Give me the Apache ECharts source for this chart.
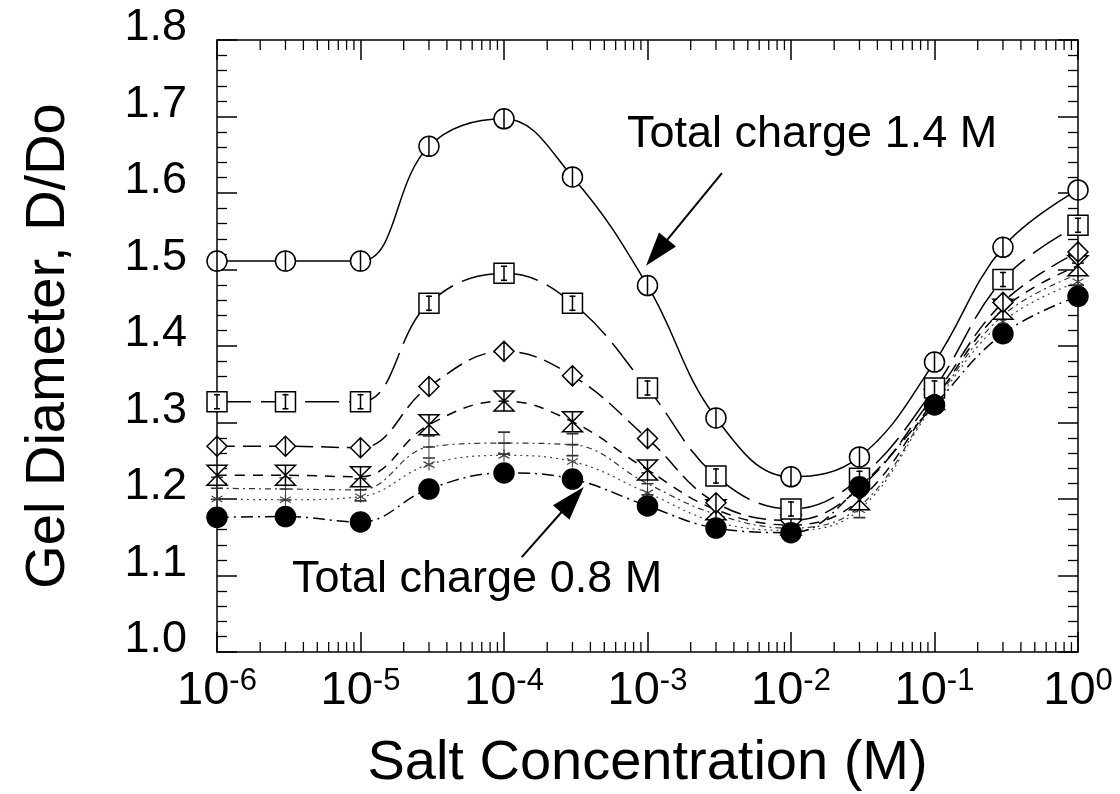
<!DOCTYPE html>
<html>
<head>
<meta charset="utf-8">
<script src="https://cdn.jsdelivr.net/npm/echarts@6/dist/echarts.min.js"></script>
<style>
  html, body { margin: 0; padding: 0; background: #fff; }
  #chart { width: 1120px; height: 794px; }
</style>
</head>
<body>
<div id="chart"></div>
<script>
// Salt concentration (M) at which the gels were measured
const saltConc = [1e-6, 3e-6, 1e-5, 3e-5, 1e-4, 3e-4, 1e-3, 3e-3, 1e-2, 3e-2, 1e-1, 3e-1, 1];

// Swelling ratio D/Do for each total charge density
const charge14 = [1.511, 1.511, 1.511, 1.661, 1.697, 1.621, 1.479, 1.306, 1.229, 1.255, 1.379, 1.529, 1.604];
const charge13 = [1.327, 1.327, 1.327, 1.456, 1.495, 1.456, 1.345, 1.230, 1.187, 1.227, 1.345, 1.487, 1.558];
const charge12 = [1.269, 1.269, 1.267, 1.347, 1.393, 1.361, 1.279, 1.195, 1.172, 1.214, 1.336, 1.457, 1.523];
const charge11 = [1.231, 1.231, 1.229, 1.297, 1.328, 1.301, 1.238, 1.186, 1.166, 1.199, 1.330, 1.448, 1.505];
const charge10 = [1.214, 1.213, 1.212, 1.268, 1.273, 1.271, 1.220, 1.180, 1.162, 1.190, 1.327, 1.440, 1.494];
const charge09 = [1.200, 1.199, 1.203, 1.245, 1.257, 1.249, 1.208, 1.170, 1.159, 1.186, 1.324, 1.432, 1.484];
const charge08 = [1.176, 1.177, 1.170, 1.213, 1.234, 1.226, 1.191, 1.162, 1.156, 1.216, 1.323, 1.416, 1.465];

// Axis ranges
const X_MIN = 1e-6, X_MAX = 1;
const Y_MIN = 1.0, Y_MAX = 1.8, Y_STEP = 0.1;

// Logarithmic minor tick positions (2..9 within each decade)
const decades = [1e-6, 1e-5, 1e-4, 1e-3, 1e-2, 1e-1];
const minorMultipliers = [2, 3, 4, 5, 6, 7, 8, 9];
const minorTicks = [];
decades.forEach(d => minorMultipliers.forEach(m => minorTicks.push(m * d)));

// Arrow annotations: [tail, head] in data coordinates
const arrowHigh = [[3.3e-3, 1.626], [1.16e-3, 1.522]];
const arrowLow = [[1.33e-4, 1.124], [3.0e-4, 1.199]];

const FONT = '"Liberation Sans", Arial, Helvetica, sans-serif';

const SYM = {
  circleBar: 'path://M0,10 A10,10 0 1,0 20,10 A10,10 0 1,0 0,10 Z M10,0 L10,20',
  squareBar: 'path://M0,0 L20,0 L20,20 L0,20 Z M10,2 L10,18 M7,3 L13,3 M7,17 L13,17',
  diamondBar: 'path://M10,0 L20,10 L10,20 L0,10 Z M10,0 L10,20',
  hourglass: 'path://M0,0 L20,0 L0,20 L20,20 Z M10,0 L10,20',
  plusBar: 'path://M6,0 L6,24 M0,0 L12,0 M0,12 L12,12 M0,24 L12,24',
  star: 'path://M6,0 L6,12 M0,3 L12,9 M0,9 L12,3'
};

function pairs(vals) {
  return saltConc.map((x, i) => [x, vals[i]]);
}

function curve(name, vals, symbol, size, dash, opts) {
  opts = opts || {};
  return {
    name: name,
    type: 'line',
    xAxisIndex: 0,
    yAxisIndex: 0,
    data: pairs(vals),
    smooth: 0.4,
    symbol: symbol,
    symbolSize: size,
    showSymbol: true,
    z: opts.z || 3,
    lineStyle: { color: opts.lineColor || '#000', width: opts.lineWidth || 1.5, type: dash },
    itemStyle: {
      color: opts.fill || '#fff',
      borderColor: opts.stroke || '#000',
      borderWidth: opts.borderWidth || 1.5
    },
    emphasis: { disabled: true },
    animation: false
  };
}

const chart = echarts.init(document.getElementById('chart'), null, { renderer: 'canvas' });

const option = {
  backgroundColor: '#fff',
  animation: false,
  grid: { left: 217, right: 42, top: 40, bottom: 142, containLabel: false, outerBoundsMode: 'none' },
  xAxis: [
    {
      type: 'log', logBase: 10, min: X_MIN, max: X_MAX, position: 'bottom',
      name: 'Salt Concentration (M)', nameLocation: 'middle', nameGap: 84,
      nameTextStyle: { fontFamily: FONT, fontSize: 56, color: '#000' },
      axisLine: { show: true, onZero: false, lineStyle: { color: '#000', width: 1.5 } },
      axisTick: { show: true, inside: true, length: 20, lineStyle: { color: '#000', width: 1.5 } },
      splitLine: { show: false },
      axisLabel: {
        margin: 14,
        formatter: function (v) {
          const e = Math.round(Math.log10(v));
          return '{b|10}{s|' + e + '}';
        },
        rich: {
          b: { fontFamily: FONT, fontSize: 47, color: '#000', lineHeight: 50 },
          s: { fontFamily: FONT, fontSize: 31, color: '#000', verticalAlign: 'top', lineHeight: 50 }
        }
      }
    },
    {
      type: 'log', logBase: 10, min: X_MIN, max: X_MAX, position: 'top',
      axisLine: { show: true, onZero: false, lineStyle: { color: '#000', width: 1.5 } },
      axisTick: { show: true, inside: true, length: 20, lineStyle: { color: '#000', width: 1.5 } },
      axisLabel: { show: false },
      splitLine: { show: false }
    }
  ],
  yAxis: [
    {
      type: 'value', min: Y_MIN, max: Y_MAX, interval: Y_STEP, position: 'left',
      name: 'Gel Diameter, D/Do', nameLocation: 'middle', nameGap: 140, nameRotate: 90,
      nameTextStyle: { fontFamily: FONT, fontSize: 56, color: '#000' },
      axisLine: { show: true, onZero: false, lineStyle: { color: '#000', width: 1.5 } },
      axisTick: { show: true, inside: true, length: 20, lineStyle: { color: '#000', width: 1.5 } },
      minorTick: { show: true, splitNumber: 5, length: 10, lineStyle: { color: '#000', width: 1.3 } },
      splitLine: { show: false },
      axisLabel: {
        margin: 30, fontFamily: FONT, fontSize: 45, color: '#000',
        verticalAlign: 'bottom', lineHeight: 24,
        formatter: v => v.toFixed(1)
      }
    },
    {
      type: 'value', min: Y_MIN, max: Y_MAX, interval: Y_STEP, position: 'right',
      axisLine: { show: true, onZero: false, lineStyle: { color: '#000', width: 1.5 } },
      axisTick: { show: true, inside: true, length: 20, lineStyle: { color: '#000', width: 1.5 } },
      minorTick: { show: true, splitNumber: 5, length: 10, lineStyle: { color: '#000', width: 1.3 } },
      axisLabel: { show: false },
      splitLine: { show: false }
    }
  ],
  graphic: [
    {
      type: 'text', left: 627, top: 112, z: 20,
      style: { text: 'Total charge 1.4 M', fontFamily: FONT, fontSize: 45, fill: '#000' }
    },
    {
      type: 'text', left: 292, top: 557, z: 20,
      style: { text: 'Total charge 0.8 M', fontFamily: FONT, fontSize: 45, fill: '#000' }
    }
  ],
  series: [
    {
      name: 'minor ticks',
      type: 'custom',
      xAxisIndex: 0, yAxisIndex: 0,
      data: minorTicks.map(v => [v, Y_MIN]),
      encode: { x: 0, y: 1 },
      clip: false, silent: true, z: 1,
      renderItem: function (params, api) {
        const v = api.value(0);
        const b = api.coord([v, Y_MIN]);
        const t = api.coord([v, Y_MAX]);
        return {
          type: 'group',
          children: [
            { type: 'line', shape: { x1: b[0], y1: b[1], x2: b[0], y2: b[1] - 10 }, style: { stroke: '#000', lineWidth: 1.3 } },
            { type: 'line', shape: { x1: t[0], y1: t[1], x2: t[0], y2: t[1] + 10 }, style: { stroke: '#000', lineWidth: 1.3 } }
          ]
        };
      }
    },
    curve('0.8 M', charge08, 'circle', 20, [12, 5, 2, 5], { fill: '#000', z: 9 }),
    curve('0.9 M', charge09, SYM.star, [11, 12], [2, 4], { lineColor: '#444', stroke: '#444', lineWidth: 1.2, borderWidth: 1.2, z: 4 }),
    curve('1.0 M', charge10, SYM.plusBar, [12, 22], [6, 4, 2, 4], { lineColor: '#333', stroke: '#333', lineWidth: 1.2, borderWidth: 1.2, z: 5 }),
    curve('1.1 M', charge11, SYM.hourglass, 20, [10, 8], { z: 6 }),
    curve('1.2 M', charge12, SYM.diamondBar, 20, [18, 8], { z: 7 }),
    curve('1.3 M', charge13, SYM.squareBar, 20, [34, 10], { z: 8 }),
    Object.assign(curve('1.4 M', charge14, SYM.circleBar, 20, 'solid', { z: 10 }), {
      markLine: {
        silent: true,
        symbol: ['none', 'triangle'],
        symbolSize: [22, 34],
        lineStyle: { color: '#000', width: 2, type: 'solid' },
        label: { show: false },
        emphasis: { disabled: true },
        data: [
          [{ coord: arrowHigh[0] }, { coord: arrowHigh[1] }],
          [{ coord: arrowLow[0] }, { coord: arrowLow[1] }]
        ]
      }
    })
  ]
};

chart.setOption(option);
</script>
</body>
</html>
